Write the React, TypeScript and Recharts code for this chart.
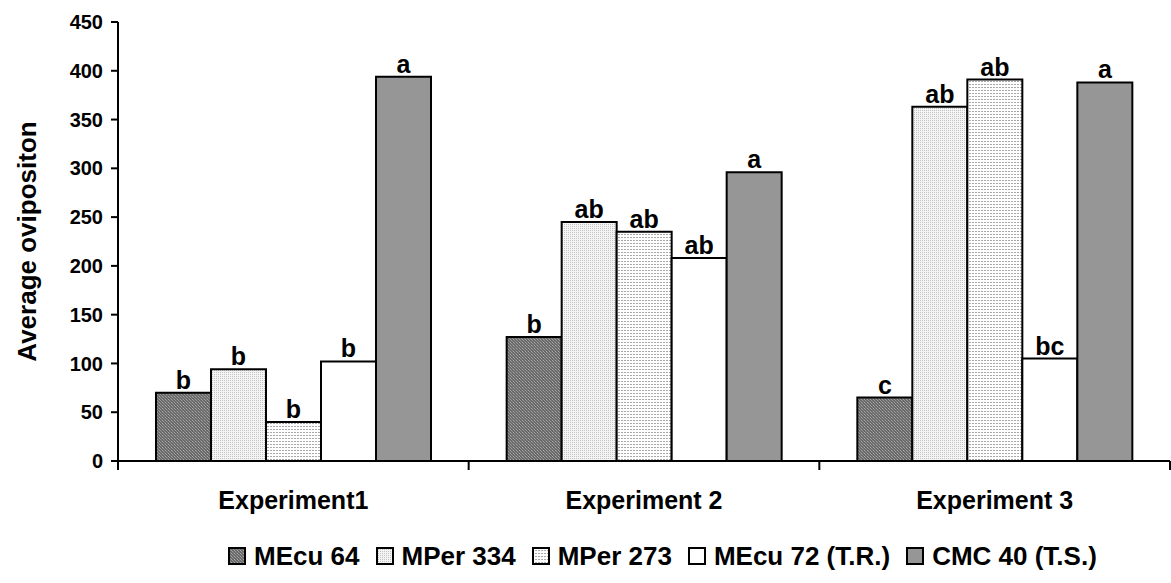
import { BarChart, Bar, XAxis, YAxis, LabelList, Legend, Label } from "recharts";

const categories = ["Experiment1", "Experiment 2", "Experiment 3"];
const seriesNames = ["MEcu 64", "MPer 334", "MPer 273", "MEcu 72 (T.R.)", "CMC 40 (T.S.)"];
const mecu64 = [70, 127, 65];
const mper334 = [94, 245, 363];
const mper273 = [40, 235, 391];
const mecu72 = [102, 208, 105];
const cmc40 = [394, 296, 388];
const mecu64Letters = ["b", "b", "c"];
const mper334Letters = ["b", "ab", "ab"];
const mper273Letters = ["b", "ab", "ab"];
const mecu72Letters = ["b", "ab", "bc"];
const cmc40Letters = ["a", "a", "a"];
const yTicks = [0, 50, 100, 150, 200, 250, 300, 350, 400, 450];

const FONT = '"Liberation Sans", Arial, sans-serif';

const data = categories.map((name, i) => ({
  name,
  s0: mecu64[i],
  s1: mper334[i],
  s2: mper273[i],
  s3: mecu72[i],
  s4: cmc40[i],
  l0: mecu64Letters[i],
  l1: mper334Letters[i],
  l2: mper273Letters[i],
  l3: mecu72Letters[i],
  l4: cmc40Letters[i],
}));

const fills = ["url(#patMEcu64)", "url(#patMPer334)", "url(#patMPer273)", "#ffffff", "#969696"];

// category label plus the little boundary ticks between experiments
function CategoryTick(props: any) {
  const { x, y, payload, width, visibleTicksCount, index } = props;
  const band = width / (visibleTicksCount || 3);
  return (
    <g>
      {index === 0 && (
        <line x1={x - band / 2} x2={x - band / 2} y1={y - 8} y2={y + 1} stroke="#000" strokeWidth={2} />
      )}
      <line x1={x + band / 2} x2={x + band / 2} y1={y - 8} y2={y + 1} stroke="#000" strokeWidth={2} />
      <text x={x} y={y} dy={40} textAnchor="middle" fontFamily={FONT} fontWeight="bold" fontSize={25} fill="#000">
        {payload.value}
      </text>
    </g>
  );
}

function YTitle(props: any) {
  const { viewBox } = props;
  const cy = viewBox.y + viewBox.height / 2;
  return (
    <text
      x={27}
      y={cy}
      transform={`rotate(-90, 27, ${cy})`}
      textAnchor="middle"
      dominantBaseline="central"
      fontFamily={FONT}
      fontWeight="bold"
      fontSize={26}
      fill="#000"
    >
      Average ovipositon
    </text>
  );
}

function LegendContent() {
  return (
    <div
      style={{
        display: "flex",
        alignItems: "center",
        paddingLeft: 228,
        height: 50,
        paddingBottom: 4,
        boxSizing: "border-box",
        fontFamily: FONT,
        fontWeight: "bold",
        fontSize: 26,
        lineHeight: "26px",
        color: "#000",
        whiteSpace: "nowrap",
      }}
    >
      {seriesNames.map((n, i) => (
        <div key={n} style={{ display: "flex", alignItems: "center", marginRight: 16 }}>
          <svg width={18} height={18} style={{ marginRight: 8 }}>
            <rect x={1} y={1} width={16} height={16} fill={fills[i]} stroke="#000" strokeWidth={2} />
          </svg>
          <span>{n}</span>
        </div>
      ))}
    </div>
  );
}

export default function App() {
  return (
    <div style={{ position: "absolute", left: 0, top: 0, width: 1171, height: 583, background: "#fff" }}>
      <BarChart
        width={1171}
        height={583}
        data={data}
        margin={{ top: 22, right: 1, bottom: 0, left: 0 }}
        barGap={0}
        barCategoryGap={38}
      >
        <defs>
          <pattern id="patMEcu64" width={3} height={3} patternUnits="userSpaceOnUse">
            <rect width={3} height={3} fill="#6a6a6a" />
            <rect x={0} y={0} width={1} height={1} fill="#a8a8a8" />
            <rect x={1} y={1} width={1} height={1} fill="#9a9a9a" />
            <rect x={2} y={2} width={1} height={1} fill="#8a8a8a" />
          </pattern>
          <pattern id="patMPer334" width={2} height={2} patternUnits="userSpaceOnUse">
            <rect width={2} height={2} fill="#f4f4f4" />
            <rect x={0} y={0} width={1} height={1} fill="#c4c4c4" />
          </pattern>
          <pattern id="patMPer273" width={3} height={3} patternUnits="userSpaceOnUse">
            <rect width={3} height={3} fill="#ffffff" />
            <rect x={0} y={0} width={2} height={1} fill="#a8a8a8" />
          </pattern>
        </defs>
        <XAxis
          dataKey="name"
          axisLine={{ stroke: "#000", strokeWidth: 2 }}
          tickLine={false}
          tickSize={6}
          tickMargin={2}
          tick={<CategoryTick />}
          height={72}
          interval={0}
        />
        <YAxis
          width={118}
          domain={[0, 450]}
          ticks={yTicks}
          interval={0}
          axisLine={{ stroke: "#000", strokeWidth: 2 }}
          tickLine={{ stroke: "#000", strokeWidth: 2 }}
          tickSize={7}
          tickMargin={8}
          tick={{ fill: "#000", fontSize: 20, fontWeight: "bold", fontFamily: FONT }}
        >
          <Label content={<YTitle />} />
        </YAxis>
        <Legend verticalAlign="bottom" content={<LegendContent />} wrapperStyle={{ left: 0, width: 1171 }} />
        {[0, 1, 2, 3, 4].map((i) => (
          <Bar
            key={i}
            dataKey={`s${i}`}
            name={seriesNames[i]}
            fill={fills[i]}
            stroke="#000"
            strokeWidth={2}
            isAnimationActive={false}
          >
            <LabelList
              dataKey={`l${i}`}
              position="top"
              offset={4}
              fill="#000"
              fontSize={25}
              fontWeight="bold"
              fontFamily={FONT}
            />
          </Bar>
        ))}
      </BarChart>
    </div>
  );
}
